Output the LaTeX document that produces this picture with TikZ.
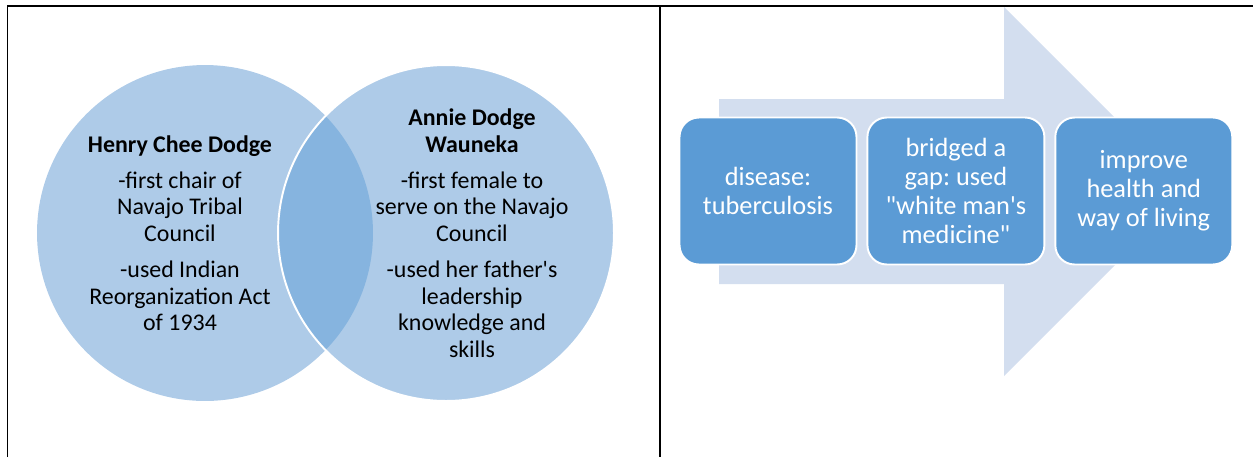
\documentclass[tikz,border=0pt]{standalone}
\usepackage{fontspec}
\setmainfont{Carlito}[Ligatures=TeXOff]
\usepackage{xcolor}
\usetikzlibrary{positioning}
\frenchspacing

\definecolor{vennblue}{RGB}{174,203,232}
\definecolor{vennmid}{RGB}{134,180,223}
\definecolor{arrowgray}{RGB}{211,222,239}
\definecolor{stepblue}{RGB}{91,155,213}

\begin{document}
\begin{tikzpicture}[x=0.02cm, y=-0.02cm,
    venntext/.style={
        align=center,
        font=\fontsize{13.6}{15.1}\selectfont
      },
    stepbox/.style={
        rectangle,
        rounded corners=11pt,
        fill=stepblue,
        draw=white,
        line width=1.1pt,
        minimum width=3.54cm,
        minimum height=2.94cm,
        text=white,
        align=center,
        font=\fontsize{15}{16.4}\selectfont
      },
    rule/.style={line width=0.95pt}]

    \useasboundingbox (0,0) rectangle (1253,457);

    % venn diagram
    \coordinate (henry) at (205,233);
    \coordinate (annie) at (446,233);
    \fill[vennblue] (henry) circle (3.36cm);
    \fill[vennblue] (annie) circle (3.36cm);
    \begin{scope}
      \clip (henry) circle (3.36cm);
      \fill[vennmid] (annie) circle (3.36cm);
    \end{scope}
    \draw[white, line width=1.1pt] (annie) circle (3.36cm);

    \node[venntext] (H) at (180,233) {\textbf{Henry Chee Dodge}\\[5.5pt]
      -first chair of\\ Navajo Tribal\\ Council\\[5.5pt]
      -used Indian\\ Reorganization Act\\ of 1934};
    \node[venntext] (W) at (472,233) {\textbf{Annie Dodge}\\ \textbf{Wauneka}\\[5.5pt]
      -first female to\\ serve on the Navajo\\ Council\\[5.5pt]
      -used her father's\\ leadership\\ knowledge and\\ skills};

    % process arrow
    \fill[arrowgray] (719,99) -- (1004,99) -- (1004,7) -- (1188.5,191.5)
      -- (1004,376) -- (1004,284) -- (719,284) -- cycle;

    \node[stepbox] (S1) at (768,191) {disease:\\ tuberculosis};
    \node[stepbox, right=0.18cm of S1] (S2) {bridged a\\ gap: used\\ "white man's\\ medicine"};
    \node[stepbox, right=0.18cm of S2] (S3) {improve\\ health and\\ way of living};

    % table rules
    \draw[rule] (7.5,457) -- (7.5,5.7) -- (1253,5.7);
    \draw[rule] (660,5.7) -- (660,457);
  \end{tikzpicture}
\end{document}
